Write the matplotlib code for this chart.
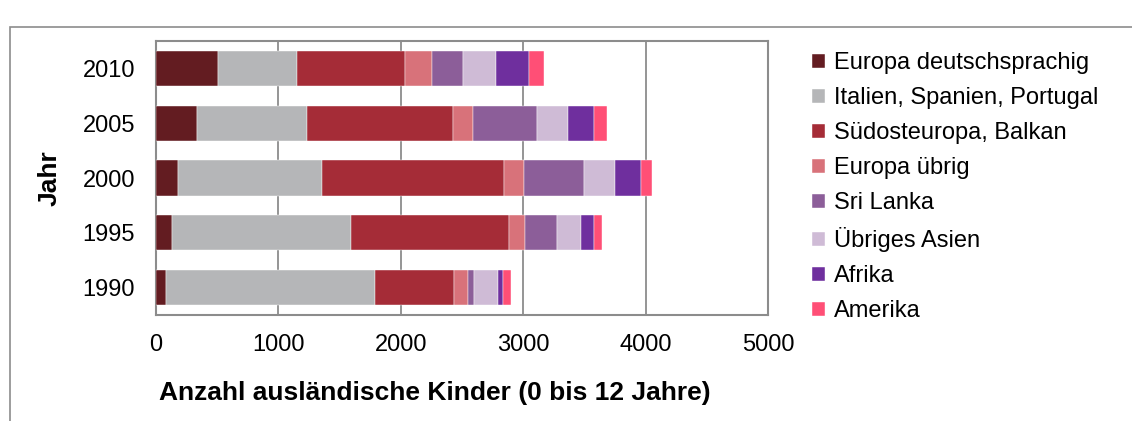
import numpy as np
import matplotlib
matplotlib.use("Agg")
import matplotlib.pyplot as plt
from matplotlib.patches import Rectangle

plt.rcParams['font.family'] = ['Liberation Sans', 'DejaVu Sans']

jahre = ['1990', '1995', '2000', '2005', '2010']
regionen = ['Europa deutschsprachig', 'Italien, Spanien, Portugal', 'Südosteuropa, Balkan',
            'Europa übrig', 'Sri Lanka', 'Übriges Asien', 'Afrika', 'Amerika']
farben = ['#631C21', '#B5B6B8', '#A52C37', '#D8727A', '#8C5E99', '#CFBBD6', '#6F2F9E', '#FF4F76']

# Werte je Region, Reihenfolge wie jahre (1990 ... 2010)
europa_dt = [80, 130, 177, 337, 510]
italien = [1707, 1461, 1179, 895, 640]
suedost = [649, 1293, 1487, 1196, 885]
europa_uebrig = [116, 127, 160, 160, 221]
sri_lanka = [47, 265, 491, 528, 251]
asien = [194, 199, 255, 251, 267]
afrika = [38, 102, 212, 210, 275]
amerika = [67, 67, 91, 111, 117]

serien = [europa_dt, italien, suedost, europa_uebrig, sri_lanka, asien, afrika, amerika]

W, H = 1132, 421
fig = plt.figure(figsize=(W / 100, H / 100), dpi=100)
ax = fig.add_axes([156 / W, 1 - 315 / H, 612 / W, 274 / H])

y = np.arange(len(jahre))
links = np.zeros(len(jahre))
for name, werte, farbe in zip(regionen, serien, farben):
    ax.barh(y, werte, left=links, height=0.64, color=farbe, label=name,
            edgecolor='white', linewidth=0.3, zorder=3)
    links += np.array(werte)

ax.set_xlim(0, 5000)
ax.set_ylim(-0.5, 4.5)
ax.set_xticks([0, 1000, 2000, 3000, 4000, 5000])
ax.set_yticks(y)
ax.set_yticklabels(jahre)
ax.tick_params(axis='both', length=0, labelsize=17)
ax.tick_params(axis='x', pad=14)
ax.tick_params(axis='y', pad=15)
ax.grid(axis='x', color='#8C8C8C', linewidth=1.3, zorder=0)
for s in ax.spines.values():
    s.set_color('#8C8C8C')
    s.set_linewidth(1.5)

ax.set_xlabel('Anzahl ausländische Kinder (0 bis 12 Jahre)', fontsize=19,
              fontweight='bold')
ax.xaxis.set_label_coords((435 - 156) / 612, -(393 - 315) / 274)
ax.xaxis.label.set_va('center')
ax.set_ylabel('Jahr', fontsize=19, fontweight='bold', labelpad=15)

handles, labels = ax.get_legend_handles_labels()
fig.legend(handles, labels, loc='upper left', bbox_to_anchor=(803 / W, 1 - 43 / H),
           frameon=False, fontsize=17, handlelength=0.55, handleheight=0.55,
           handletextpad=0.35, labelspacing=0.55, borderaxespad=0)

# Rahmen um das Diagramm
fig.patches.append(Rectangle((10 / W, -0.1), 1.2, 1 - 27 / H + 0.1, transform=fig.transFigure,
                             fill=False, edgecolor='#8C8C8C', linewidth=1.2))

fig.savefig('out.png', dpi=100)
